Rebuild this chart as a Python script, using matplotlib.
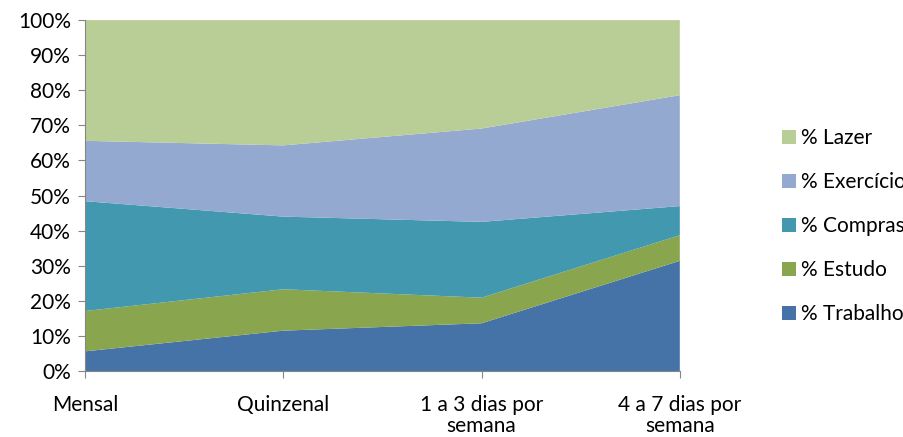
import numpy as np
import matplotlib.pyplot as plt
from matplotlib.patches import Patch
from matplotlib.ticker import PercentFormatter

plt.rcParams['font.family'] = ['Lato', 'DejaVu Sans']

categorias = ['Mensal', 'Quinzenal', '1 a 3 dias por\nsemana', '4 a 7 dias por\nsemana']
series = ['% Trabalho', '% Estudo', '% Compras', '% Exercício', '% Lazer']
trabalho = [5.6, 11.5, 13.6, 31.4]
estudo = [11.5, 11.8, 7.3, 7.3]
compras = [31.3, 20.7, 21.6, 8.3]
exercicio = [17.2, 20.3, 26.6, 31.6]
lazer = [34.4, 35.7, 30.9, 21.4]
cores = ['#4572A7', '#89A54E', '#4198AF', '#93A9CF', '#B9CD96']

dados = np.array([trabalho, estudo, compras, exercicio, lazer])
dados = dados / dados.sum(axis=0) * 100
x = np.arange(len(categorias))

fig = plt.figure(figsize=(9.04, 4.37), dpi=100)
ax = fig.add_axes([0.094, 0.151, 0.658, 0.803])
ax.stackplot(x, dados, colors=cores, linewidth=0)

ax.set_xlim(0, 3)
ax.set_ylim(0, 100)
ax.set_yticks(np.arange(0, 101, 10))
ax.yaxis.set_major_formatter(PercentFormatter(decimals=0))
ax.set_xticks(x)
ax.set_xticklabels(categorias, linespacing=1.1)
for s in ['top', 'right']:
    ax.spines[s].set_visible(False)
for s in ['left', 'bottom']:
    ax.spines[s].set_color('#868686')
ax.tick_params(axis='both', colors='#868686', labelcolor='black', labelsize=15, length=5)
ax.tick_params(axis='y', pad=5)
ax.tick_params(axis='x', pad=12)

handles = [Patch(facecolor=c, edgecolor='none') for c in cores]
fig.legend(handles[::-1], series[::-1], loc='center left', bbox_to_anchor=(0.865, 0.482),
           frameon=False, fontsize=15, labelspacing=1.15, handlelength=0.65,
           handleheight=0.65, handletextpad=0.25, borderpad=0, borderaxespad=0)

fig.savefig('out.png', dpi=100)
